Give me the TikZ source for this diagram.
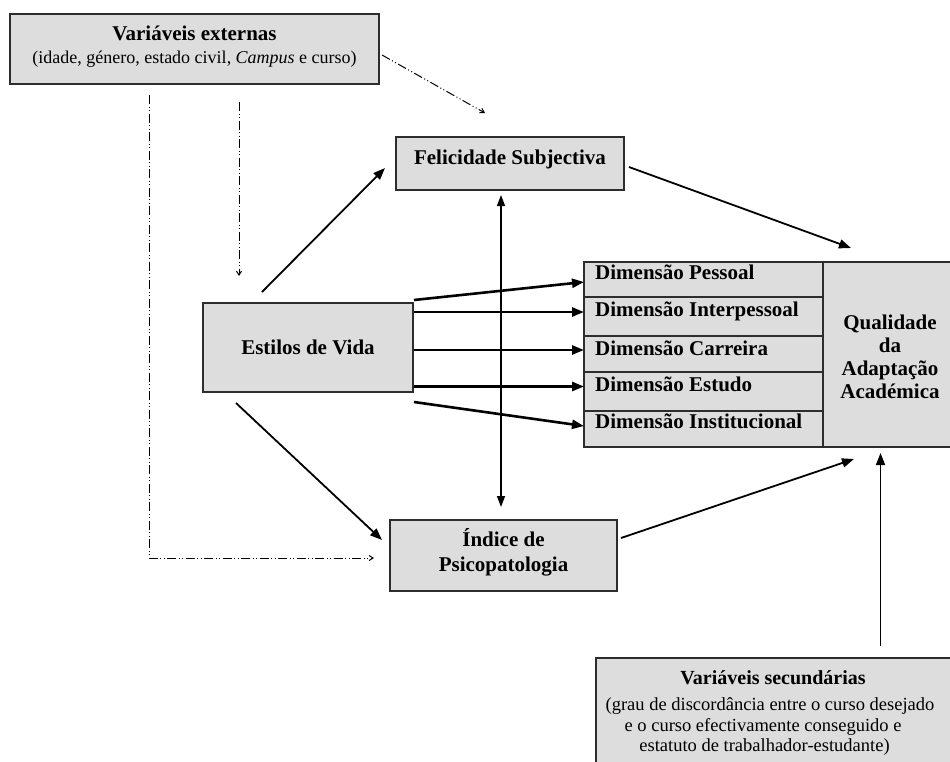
\documentclass[tikz,border=0pt]{standalone}
\usepackage{fontspec}
\setmainfont{Liberation Serif}
\usetikzlibrary{arrows.meta}
\definecolor{boxfill}{RGB}{221,221,221}
\definecolor{boxline}{RGB}{45,45,45}
\begin{document}
\begin{tikzpicture}[x=1pt,y=-1pt,
  boxstyle/.style={draw=boxline, fill=boxfill, line width=1.5pt},
  bold21/.style={inner sep=0pt, anchor=base, font=\fontsize{21}{23}\selectfont\bfseries},
  dimtxt/.style={inner sep=0pt, anchor=base west, font=\fontsize{21}{23}\selectfont\bfseries},
  arr/.style={-{Triangle[length=12pt,width=9pt]}, line width=1.8pt},
  dimarr/.style={-{Triangle[length=12pt,width=9pt]}, line width=2.6pt},
  thinarr/.style={line width=1.4pt},
  ddarr/.style={-{Straight Barb[length=4pt,width=5pt]}, line width=1pt,
     dash pattern=on 9pt off 2.5pt on 1pt off 2.5pt on 1pt off 2.5pt}]
\useasboundingbox (0,0) rectangle (950,761);
\fill[white] (0,0) rectangle (950,761);
\clip (0,0) rectangle (950,761);

% boxes
\draw[boxstyle] (10,14) rectangle (379,84);
\node[bold21] (exttitle) at (194.5,40) {Variáveis externas};
\node[inner sep=0pt, anchor=base, font=\fontsize{18}{20}\selectfont] (extsub) at (194.5,63)
  {(idade, género, estado civil, \textit{Campus} e curso)};

\draw[boxstyle] (396,137) rectangle (624,190);
\node[bold21] (felic) at (510,164) {Felicidade Subjectiva};

\draw[boxstyle] (203,303) rectangle (413,392);
\node[bold21] (estilos) at (308,354) {Estilos de Vida};

\draw[boxstyle] (390,520) rectangle (617,591);
\node[bold21] (indice1) at (503.5,546) {Índice de};
\node[bold21] (indice2) at (503.5,571) {Psicopatologia};

% dimension block
\draw[boxstyle] (584,262) rectangle (958,447);
\draw[boxline, line width=1.5pt] (823,262) -- (823,447);
\foreach \yy in {297,336,372,411} \draw[boxline, line width=1.5pt] (584,\yy) -- (823,\yy);
\node[dimtxt] (dp) at (595,279.5) {Dimensão Pessoal};
\node[dimtxt] (di) at (595,316.5) {Dimensão Interpessoal};
\node[dimtxt] (dc) at (595,355) {Dimensão Carreira};
\node[dimtxt] (de) at (595,391.5) {Dimensão Estudo};
\node[dimtxt] (dn) at (595,428.5) {Dimensão Institucional};
\node[bold21] (q1) at (890,329.5) {Qualidade};
\node[bold21] (q2) at (890,352.5) {da};
\node[bold21] (q3) at (890,375.5) {Adaptação};
\node[bold21] (q4) at (890,398.5) {Académica};

% secondary box
\draw[boxstyle] (596,658) rectangle (958,770);
\node[inner sep=0pt, anchor=base, font=\fontsize{20}{22}\selectfont\bfseries] (sectitle) at (773,684) {Variáveis secundárias};
\node[inner sep=0pt, anchor=base, font=\fontsize{18.5}{20}\selectfont] (sec1) at (770,710) {(grau de discordância entre o curso desejado};
\node[inner sep=0pt, anchor=base, font=\fontsize{18.5}{20}\selectfont] (sec2) at (763,731) {e o curso efectivamente conseguido e};
\node[inner sep=0pt, anchor=base, font=\fontsize{18.5}{20}\selectfont] (sec3) at (764.5,751) {estatuto de trabalhador-estudante)};

% connector end points
\coordinate (eA) at (149,95);
\coordinate (eAc) at (149,558);
\coordinate (eAt) at (374,558);
\coordinate (eB) at (239,102);
\coordinate (eBt) at (239,276);
\coordinate (eC) at (382,55);
\coordinate (eCt) at (485,113);

\coordinate (sF) at (262,292);  \coordinate (tF) at (385,168);
\coordinate (fQ) at (629,167);  \coordinate (tQ1) at (851,248);
\coordinate (sI) at (236,403);  \coordinate (tI) at (382,540);
\coordinate (iQ) at (621,538);  \coordinate (tQ2) at (854,459);
\coordinate (vTop) at (501,195); \coordinate (vBot) at (501,507);
\coordinate (sS) at (880.5,646); \coordinate (tS) at (880.5,453);

\coordinate (d1s) at (414,300); \coordinate (d1t) at (584,282);
\coordinate (d2s) at (414,312); \coordinate (d2t) at (584,312);
\coordinate (d3s) at (414,350); \coordinate (d3t) at (584,350);
\coordinate (d4s) at (414,386.5); \coordinate (d4t) at (584,386.5);
\coordinate (d5s) at (414,402); \coordinate (d5t) at (584,426);

% dash-dot connectors
\draw[ddarr] (eA) -- (eAc) -- (eAt);
\draw[ddarr] (eB) -- (eBt);
\draw[ddarr] (eC) -- (eCt);

% solid connectors
\draw[arr] (sF) -- (tF);
\draw[arr] (fQ) -- (tQ1);
\draw[arr] (sI) -- (tI);
\draw[arr] (iQ) -- (tQ2);
\draw[thinarr, {Triangle[length=11pt,width=8pt]}-{Triangle[length=11pt,width=8pt]}] (vTop) -- (vBot);
\draw[arr] (sS) -- (tS);

\draw[dimarr] (d1s) -- (d1t);
\draw[dimarr] (d2s) -- (d2t);
\draw[dimarr] (d3s) -- (d3t);
\draw[dimarr] (d4s) -- (d4t);
\draw[dimarr] (d5s) -- (d5t);
\end{tikzpicture}
\end{document}
